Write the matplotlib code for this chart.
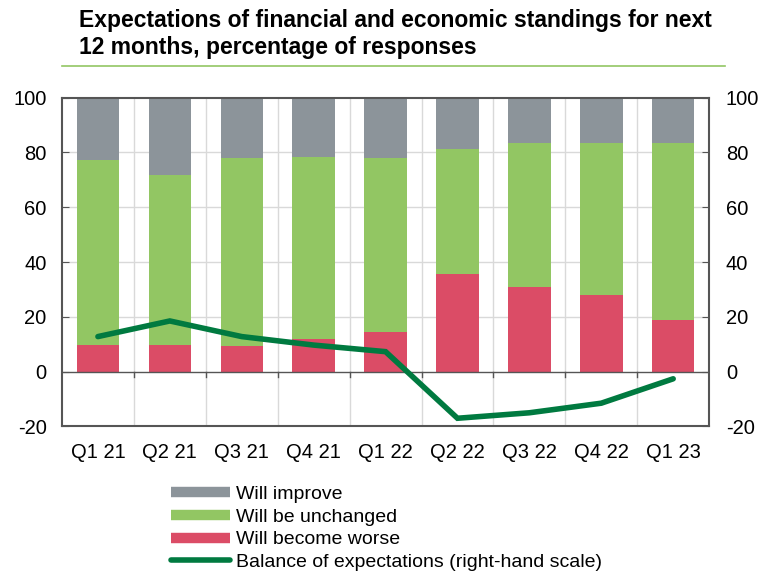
import matplotlib.pyplot as plt
from matplotlib.lines import Line2D
import numpy as np

plt.rcParams['font.family'] = ['Liberation Sans', 'DejaVu Sans']
plt.rcParams['axes.unicode_minus'] = False

quarters = ["Q1 21", "Q2 21", "Q3 21", "Q4 21", "Q1 22", "Q2 22", "Q3 22", "Q4 22", "Q1 23"]
worse = [9.8, 9.8, 9.4, 12.0, 14.6, 35.5, 31.0, 27.9, 19.0]
unchanged = [67.4, 61.8, 68.4, 66.3, 63.5, 45.9, 52.6, 55.5, 64.4]
improve = [22.8, 28.4, 22.2, 21.7, 21.9, 18.6, 16.4, 16.6, 16.6]
balance = [12.8, 18.5, 12.8, 9.7, 7.3, -17.0, -15.0, -11.5, -2.6]

c_improve = "#8C949A"
c_unchanged = "#92C663"
c_worse = "#DB4C66"
c_balance = "#007A40"

fig = plt.figure(figsize=(7.65, 5.74), dpi=100)
ax = fig.add_axes([0.081, 0.257, 0.846, 0.573])

x = np.arange(len(quarters))
w = 0.59
ax.bar(x, worse, w, color=c_worse, zorder=2)
ax.bar(x, unchanged, w, bottom=worse, color=c_unchanged, zorder=2)
ax.bar(x, improve, w, bottom=np.add(worse, unchanged), color=c_improve, zorder=2)

ax.set_xlim(-0.5, len(quarters) - 0.5)
ax.set_ylim(-20, 100)
ax.set_yticks(range(-20, 101, 20))

# grid: horizontal lines + vertical lines between categories
for yv in range(20, 100, 20):
    ax.axhline(yv, color="#D9D9D9", lw=1, zorder=1)
for xv in np.arange(0.5, len(quarters) - 0.5, 1):
    ax.axvline(xv, color="#D9D9D9", lw=1, zorder=1)
    ax.plot([xv, xv], [0, -2], color="#555555", lw=1, zorder=3)
ax.axhline(0, color="#555555", lw=1, zorder=3)

ax.set_xticks(x)
ax.set_xticklabels(quarters, fontsize=14.5)
ax.tick_params(axis="x", length=0, pad=12)
ax.tick_params(axis="y", direction="in", length=5, labelsize=14.5, color="#555555", pad=11)
for s in ax.spines.values():
    s.set_color("#555555")
    s.set_linewidth(1.5)

ax2 = ax.twinx()
ax2.set_ylim(-20, 100)
ax2.set_yticks(range(-20, 101, 20))
ax2.tick_params(axis="y", direction="in", length=5, labelsize=14.5, color="#555555", pad=12)
for s in ax2.spines.values():
    s.set_visible(False)
ax2.plot(x, balance, color=c_balance, lw=4, solid_capstyle="round", solid_joinstyle="miter", zorder=4)

# title
fig.text(0.103, 0.985, "Expectations of financial and economic standings for next\n12 months, percentage of responses",
         fontsize=16.5, fontweight="bold", va="top", ha="left", linespacing=1.22)
fig.add_artist(Line2D([0.081, 0.948], [0.885, 0.885], color=c_unchanged, lw=1.2))

handles = [
    Line2D([], [], color=c_improve, lw=7.5, solid_capstyle="butt"),
    Line2D([], [], color=c_unchanged, lw=7.5, solid_capstyle="butt"),
    Line2D([], [], color=c_worse, lw=7.5, solid_capstyle="butt"),
    Line2D([], [], color=c_balance, lw=4, solid_capstyle="round"),
]
labels = ["Will improve", "Will be unchanged", "Will become worse",
          "Balance of expectations (right-hand scale)"]
fig.legend(handles, labels, loc="upper left", bbox_to_anchor=(0.2235, 0.155),
           frameon=False, fontsize=14, handlelength=3.05, handletextpad=0.3,
           labelspacing=0.27, borderpad=0, borderaxespad=0)

fig.savefig("out.png", dpi=100)
